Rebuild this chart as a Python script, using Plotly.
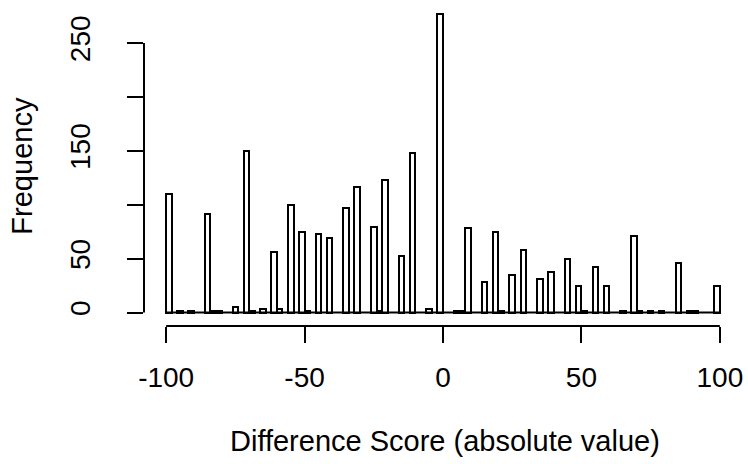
import plotly.graph_objects as go

# Histogram bins of width 2 from -100 to 100 (only non-empty bins listed)
bin_width = 2
bin_edges_range = [-100, 100]
bin_centers = [-99, -95, -91, -85, -83, -81, -75, -71, -69, -65, -61, -59, -55, -51, -49,
               -45, -41, -35, -31, -25, -23, -21, -15, -11, -5, -1,
               5, 7, 9, 15, 19, 21, 25, 29, 35, 39, 45, 49, 51, 55, 59, 65, 69, 71, 75, 79,
               85, 89, 91, 99]
counts = [110, 1, 1, 91, 1, 1, 5, 150, 1, 3, 56, 3, 100, 75, 1,
          73, 69, 97, 116, 79, 1, 123, 52, 148, 3, 277,
          1, 1, 78, 28, 75, 1, 35, 58, 31, 38, 50, 25, 1, 42, 25, 1, 71, 1, 1, 1,
          46, 1, 1, 25]

x_tickvals = [-100, -50, 0, 50, 100]
x_ticktext = ["-100", "-50", "0", "50", "100"]
y_tickvals = [0, 50, 100, 150, 200, 250]
y_ticktext = ["0", "50", "", "150", "", "250"]

x_title = "Difference Score (absolute value)"
y_title = "Frequency"

FONT = "Liberation Sans, Arial, sans-serif"
FS_TICK = 28
FS_TITLE = 29

fig = go.Figure()

# baseline drawn by empty bins (zero-height rectangles in R)
fig.add_trace(go.Scatter(
    x=bin_edges_range, y=[0, 0], mode="lines",
    line=dict(color="black", width=2), hoverinfo="skip", showlegend=False))

fig.add_trace(go.Bar(
    x=bin_centers, y=counts, width=bin_width,
    marker=dict(color="white", line=dict(color="black", width=2)),
    showlegend=False))

fig.update_layout(
    width=748, height=464,
    margin=dict(l=144, r=6, t=2, b=138),
    paper_bgcolor="white", plot_bgcolor="white",
    font=dict(family=FONT, size=FS_TICK, color="black"),
    bargap=0,
    xaxis=dict(range=[-108, 108], showgrid=False, zeroline=False, showline=False,
               tickmode="array", tickvals=x_tickvals, ticktext=x_ticktext,
               ticks="outside", ticklen=16, tickwidth=2, tickcolor="black",
               ticklabelstandoff=10,
               tickfont=dict(family=FONT, size=FS_TICK, color="black")),
    yaxis=dict(range=[-12.5, 288], showgrid=False, zeroline=False, showline=False,
               tickmode="array", tickvals=y_tickvals, ticktext=y_ticktext,
               ticks="outside", ticklen=16, tickwidth=2, tickcolor="black",
               tickangle=-90, ticklabelstandoff=26,
               tickfont=dict(family=FONT, size=FS_TICK, color="black")),
    shapes=[
        dict(type="line", xref="x", yref="paper", x0=x_tickvals[0], x1=x_tickvals[-1],
             y0=0, y1=0, line=dict(color="black", width=2)),
        dict(type="line", xref="paper", yref="y", x0=0, x1=0,
             y0=y_tickvals[0], y1=y_tickvals[-1], line=dict(color="black", width=2)),
    ],
    annotations=[
        dict(text=x_title, xref="paper", yref="paper", x=0.503, y=-0.355,
             xanchor="center", yanchor="middle", showarrow=False,
             font=dict(family=FONT, size=FS_TITLE, color="black")),
        dict(text=y_title, xref="paper", yref="paper", x=-0.204, y=0.495,
             xanchor="center", yanchor="middle", textangle=-90, showarrow=False,
             font=dict(family=FONT, size=FS_TITLE, color="black")),
    ],
)

fig.write_html("out.html", config={"displayModeBar": False},
               post_script="document.body.style.margin='0';")
